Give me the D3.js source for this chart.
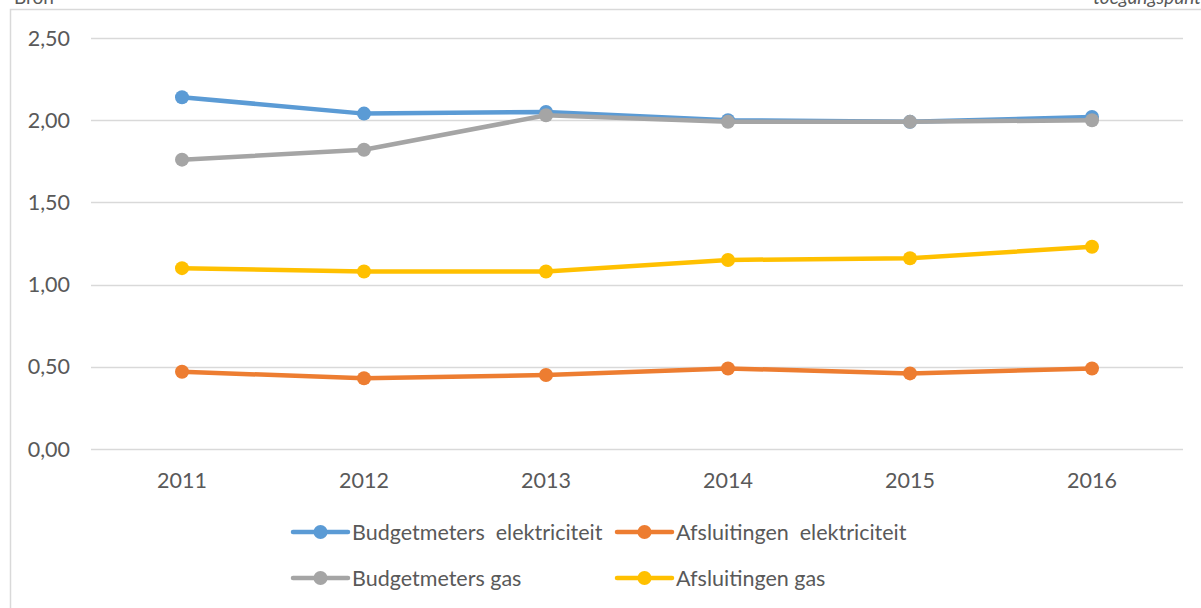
<!DOCTYPE html>
<html>
<head>
<meta charset="utf-8">
<script src="https://cdn.jsdelivr.net/npm/d3@7"></script>
<style>
  html, body { margin: 0; padding: 0; background: #fff; }
  svg { display: block; font-family: Lato, "Open Sans", sans-serif; }
  text { white-space: pre; }
</style>
</head>
<body>
<svg id="chart" width="1201" height="608"></svg>
<script>
const years = ["2011", "2012", "2013", "2014", "2015", "2016"];
const budgetElek = [2.14, 2.04, 2.05, 2.00, 1.99, 2.02];
const afslElek   = [0.47, 0.43, 0.45, 0.49, 0.46, 0.49];
const budgetGas  = [1.76, 1.82, 2.03, 1.99, 1.99, 2.00];
const afslGas    = [1.10, 1.08, 1.08, 1.15, 1.16, 1.23];
const yTicks = [0, 0.5, 1, 1.5, 2, 2.5];
const seriesNames = ["Budgetmeters  elektriciteit", "Afsluitingen  elektriciteit", "Budgetmeters gas", "Afsluitingen gas"];
const seriesColors = ["#5B9BD5", "#ED7D31", "#A5A5A5", "#FFC000"];
const seriesValues = [budgetElek, afslElek, budgetGas, afslGas];

const svg = d3.select("#chart");
const grid = "#D9D9D9", txt = "#595959";
const fs = 21.5;

// frame and cut-off header text
svg.append("text").attr("x", 14).attr("y", 4).attr("font-size", 19).attr("fill", txt).text("Bron");
svg.append("text").attr("x", 1201).attr("y", 4).attr("font-size", 19).attr("fill", txt)
  .attr("text-anchor", "end").attr("font-style", "italic").text("toegangspunt");
svg.append("path").attr("d", "M10.5,608 V9.5 H1201").attr("fill", "none").attr("stroke", grid).attr("stroke-width", 1.5);

const x = d3.scaleBand().domain(years).range([91, 1183]);
const y = d3.scaleLinear().domain([0, 2.5]).range([449, 38]);

// gridlines
svg.append("g").selectAll("line").data(yTicks).join("line")
  .attr("x1", 91).attr("x2", 1183)
  .attr("y1", d => Math.round(y(d)) + 0.5).attr("y2", d => Math.round(y(d)) + 0.5)
  .attr("stroke", grid).attr("stroke-width", 1.3);

// y labels
svg.append("g").selectAll("text").data(yTicks).join("text")
  .attr("x", 70).attr("y", d => y(d)).attr("dy", "0.35em")
  .attr("text-anchor", "end").attr("font-size", fs).attr("fill", txt)
  .text(d => d3.format(".2f")(d).replace(".", ","));

// x labels
svg.append("g").selectAll("text").data(years).join("text")
  .attr("x", d => x(d) + x.bandwidth() / 2).attr("y", 480).attr("dy", "0.35em")
  .attr("text-anchor", "middle").attr("font-size", fs).attr("fill", txt)
  .text(d => d);

const line = d3.line().x((d, i) => x(years[i]) + x.bandwidth() / 2).y(d => y(d));

seriesValues.forEach((vals, k) => {
  const g = svg.append("g");
  g.append("path").datum(vals).attr("d", line).attr("fill", "none")
    .attr("stroke", seriesColors[k]).attr("stroke-width", 4.5).attr("stroke-linejoin", "round").attr("stroke-linecap", "round");
  g.selectAll("circle").data(vals).join("circle")
    .attr("cx", (d, i) => x(years[i]) + x.bandwidth() / 2).attr("cy", d => y(d))
    .attr("r", 7).attr("fill", seriesColors[k]);
});

// legend
const legPos = [[293, 532], [617, 532], [293, 578], [617, 578]];
seriesNames.forEach((name, k) => {
  const [lx, ly] = legPos[k];
  const g = svg.append("g");
  g.append("line").attr("x1", lx).attr("x2", lx + 55).attr("y1", ly).attr("y2", ly)
    .attr("stroke", seriesColors[k]).attr("stroke-width", 4.5).attr("stroke-linecap", "round");
  g.append("circle").attr("cx", lx + 27.5).attr("cy", ly).attr("r", 7).attr("fill", seriesColors[k]);
  g.append("text").attr("x", lx + 59).attr("y", ly).attr("dy", "0.35em")
    .attr("font-size", fs).attr("fill", txt).text(name);
});
</script>
</body>
</html>
